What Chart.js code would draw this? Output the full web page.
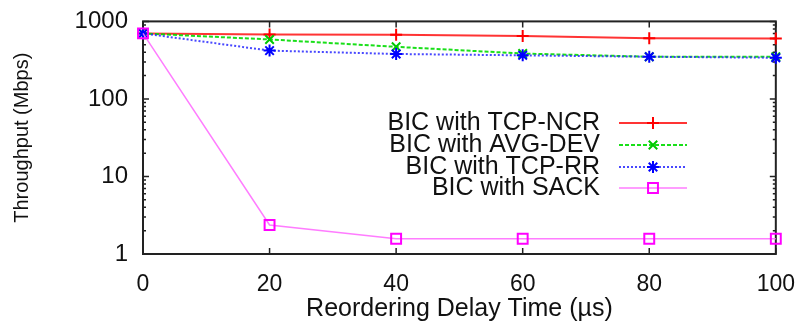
<!DOCTYPE html>
<html>
<head>
<meta charset="utf-8">
<script src="https://cdn.jsdelivr.net/npm/chart.js@4/dist/chart.umd.min.js"></script>
<style>
  html, body { margin: 0; padding: 0; background: #fff; }
  #wrap { width: 804px; height: 325px; position: relative; }
</style>
</head>
<body>
<div id="wrap"><canvas id="tputChart"></canvas></div>
<script>
// delay (us) on the x axis
const delays = [0, 20, 40, 60, 80, 100];
// throughput in Mbps
const ncrValues = [700, 680, 675, 650, 605, 600];
const avgDevValues = [700, 585, 470, 385, 350, 350];
const rrValues = [700, 420, 380, 365, 350, 340];
const sackValues = [700, 2.37, 1.57, 1.57, 1.57, 1.57];

const xTicks = [0, 20, 40, 60, 80, 100];
const yTicks = [1, 10, 100, 1000];
const legendLabels = ['BIC with TCP-NCR', 'BIC with AVG-DEV', 'BIC with TCP-RR', 'BIC with SACK'];

const FONT = '"Liberation Sans", Arial, Helvetica, sans-serif';

function toPoints(vals) {
    return delays.map((d, i) => ({ x: d, y: vals[i] }));
}

const seriesStyle = [
    { values: ncrValues, color: 'rgba(255,30,30,0.9)', marker: 'rgb(255,0,0)', dash: [], width: 2, point: 'cross', radius: 6 },
    { values: avgDevValues, color: 'rgba(0,220,0,0.9)', marker: 'rgb(0,200,0)', dash: [4, 2], width: 2, point: 'crossRot', radius: 6 },
    { values: rrValues, color: 'rgba(40,40,255,0.85)', marker: 'rgb(0,0,255)', dash: [2, 2], width: 2, point: 'star', radius: 6 },
    { values: sackValues, color: 'rgba(255,110,255,0.9)', marker: 'rgb(255,0,255)', dash: [], width: 1.5, point: 'rect', radius: 7 }
];

// frame + inward tick marks like gnuplot
const framePlugin = {
    id: 'frame',
    beforeDatasetsDraw(chart) {
        const { ctx, chartArea: a, scales } = chart;
        const xs = scales.x, ys = scales.y;
        ctx.save();
        ctx.strokeStyle = '#222';
        ctx.lineWidth = 1.5;
        ctx.beginPath();
        xTicks.forEach(v => {
            const px = xs.getPixelForValue(v);
            ctx.moveTo(px, a.bottom); ctx.lineTo(px, a.bottom - 6);
            ctx.moveTo(px, a.top); ctx.lineTo(px, a.top + 6);
        });
        for (let dec = 1; dec < 1000; dec *= 10) {
            for (let m = 1; m <= 10; m++) {
                const v = dec * m;
                const py = ys.getPixelForValue(v);
                const len = (m === 1 || m === 10) ? 6 : 3;
                ctx.moveTo(a.left, py); ctx.lineTo(a.left + len, py);
                ctx.moveTo(a.right, py); ctx.lineTo(a.right - len, py);
            }
        }
        ctx.stroke();
        ctx.lineWidth = 2;
        ctx.strokeRect(a.left, a.top, a.right - a.left, a.bottom - a.top);
        ctx.restore();
    }
};

// legend drawn gnuplot style: text right-aligned, sample to its right
const keyPlugin = {
    id: 'keyBox',
    afterDraw(chart) {
        const { ctx } = chart;
        const textRight = 600, lineL = 619, lineR = 687, rowY = [123, 145, 167, 188];
        ctx.save();
        ctx.font = '25px ' + FONT;
        ctx.textAlign = 'right';
        ctx.textBaseline = 'middle';
        seriesStyle.forEach((s, i) => {
            const y = rowY[i];
            ctx.fillStyle = '#111';
            ctx.fillText(legendLabels[i], textRight, y);
            ctx.strokeStyle = s.color;
            ctx.lineWidth = s.width;
            ctx.setLineDash(s.dash);
            ctx.beginPath();
            ctx.moveTo(lineL, y); ctx.lineTo(lineR, y);
            ctx.stroke();
            ctx.setLineDash([]);
            ctx.strokeStyle = s.marker;
            ctx.fillStyle = 'rgba(0,0,0,0)';
            ctx.lineWidth = 2;
            Chart.helpers.drawPoint(ctx, { pointStyle: s.point, radius: s.radius, borderWidth: 2 }, (lineL + lineR) / 2, y);
        });
        ctx.restore();
    }
};

new Chart(document.getElementById('tputChart'), {
    type: 'line',
    data: {
        datasets: seriesStyle.map((s, i) => ({
            label: legendLabels[i],
            data: toPoints(s.values),
            borderColor: s.color,
            borderWidth: s.width,
            borderDash: s.dash,
            pointStyle: s.point,
            pointRadius: s.radius,
            pointBorderColor: s.marker,
            pointBackgroundColor: 'rgba(0,0,0,0)',
            pointBorderWidth: 2,
            tension: 0,
            fill: false,
            clip: false
        })).reverse()
    },
    options: {
        responsive: true,
        maintainAspectRatio: false,
        animation: false,
        layout: { padding: { top: 17, right: 26, bottom: 0, left: 0 } },
        plugins: { legend: { display: false }, tooltip: { enabled: false } },
        scales: {
            x: {
                type: 'linear',
                min: 0,
                max: 100,
                grid: { display: false },
                border: { display: false },
                afterBuildTicks: scale => { scale.ticks = xTicks.map(v => ({ value: v })); },
                afterFit: scale => { scale.height = 71; },
                ticks: { color: '#111', font: { family: FONT, size: 23 }, padding: 9, maxRotation: 0 },
                title: {
                    display: true,
                    text: 'Reordering Delay Time (µs)',
                    color: '#111',
                    font: { family: FONT, size: 25 },
                    padding: { top: 0, bottom: 1 }
                }
            },
            y: {
                type: 'logarithmic',
                min: 1,
                max: 1000,
                grid: { display: false },
                border: { display: false },
                afterBuildTicks: scale => { scale.ticks = yTicks.map(v => ({ value: v })); },
                afterFit: scale => { scale.width = 143; },
                ticks: {
                    color: '#111',
                    font: { family: FONT, size: 24 },
                    padding: 7,
                    callback: v => String(v)
                },
                title: {
                    display: true,
                    text: 'Throughput (Mbps)',
                    color: '#111',
                    font: { family: FONT, size: 20 },
                    padding: { top: 10, bottom: 0 }
                }
            }
        }
    },
    plugins: [framePlugin, keyPlugin]
});
</script>
</body>
</html>
